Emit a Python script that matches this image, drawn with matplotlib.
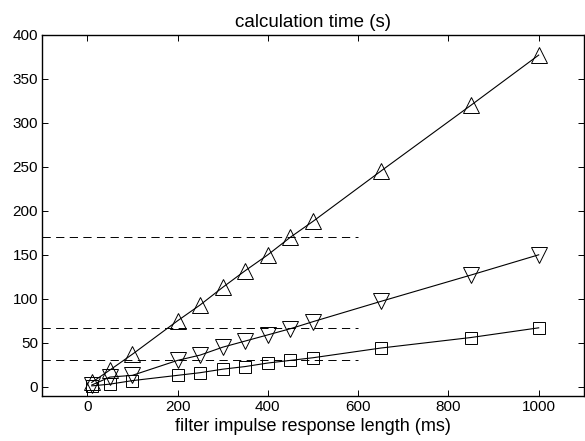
import matplotlib
matplotlib.use('Agg')
import matplotlib.pyplot as plt

# filter lengths (ms)
lengths = [10, 50, 100, 200, 250, 300, 350, 400, 450, 500, 650, 850, 1000]
# calculation time (s) for three methods
time_up = [5, 19, 37, 75, 93, 113, 132, 150, 170, 188, 245, 320, 377]
time_down = [2, 11, 13, 30, 36, 45, 52, 59, 66, 74, 97, 127, 150]
time_sq = [1, 3, 7, 13, 16, 20, 23, 27, 30, 33, 44, 56, 67]
# reference levels (dashed)
ref_levels = [170, 67, 30]
ref_xmax = 600

plt.rcParams['font.family'] = ['Liberation Sans', 'DejaVu Sans']

fig = plt.figure(figsize=(5.85, 4.41), dpi=100)
ax = fig.add_axes([0.072, 0.103, 0.926, 0.818])

for lvl in ref_levels:
    ax.plot([-100, ref_xmax], [lvl, lvl], color='k', lw=0.7, ls=(0, (8.5, 5.5)))

ax.plot(lengths, time_up, '-^', color='k', lw=0.8, ms=11, mfc='none', mew=0.7)
ax.plot(lengths, time_down, '-v', color='k', lw=0.8, ms=11, mfc='none', mew=0.7)
ax.plot(lengths, time_sq, '-s', color='k', lw=0.8, ms=8, mfc='none', mew=0.7)

ax.set_xlim(-100, 1100)
ax.set_ylim(-10, 400)
ax.set_xticks([0, 200, 400, 600, 800, 1000])
ax.set_yticks(range(0, 401, 50))
ax.tick_params(direction='in', top=True, right=True, labelsize=11, length=4, width=0.7, pad=3)
for s in ax.spines.values():
    s.set_linewidth(1.0)

ax.set_title('calculation time (s)', fontsize=13.5, pad=6)
ax.set_xlabel('filter impulse response length (ms)', fontsize=13, labelpad=3)

fig.savefig('out.png', dpi=100)
